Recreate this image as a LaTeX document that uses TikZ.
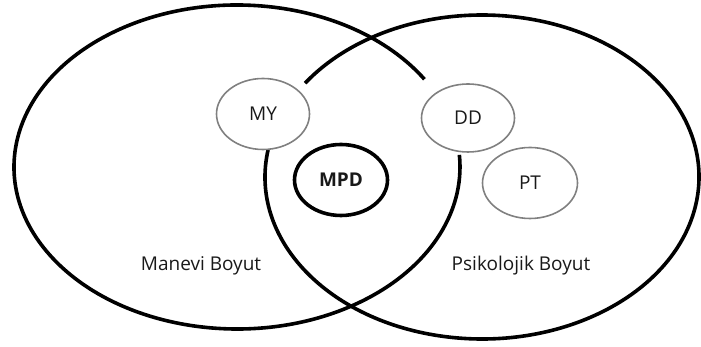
\documentclass[tikz,border=0pt]{standalone}
\usepackage{fontspec}
\setmainfont{Open Sans}
\usetikzlibrary{shapes.geometric}

\begin{document}
\begin{tikzpicture}[x=1pt, y=1pt,
  big/.style={line width=3.6pt, black},
  dim/.style={ellipse, draw=gray, fill=white, line width=1.6pt, inner sep=0pt,
    minimum width=93pt, minimum height=71pt, text=black!90, font=\fontsize{19}{21}\selectfont},
  core/.style={dim, draw=black, line width=3.6pt, font=\fontsize{19}{21}\selectfont\bfseries},
  lbl/.style={anchor=base, text=black!90, font=\fontsize{19}{21}\selectfont}]
\useasboundingbox (0,0) rectangle (701,347);

\draw[big] (237,180) ++(32.8:223pt and 162pt) arc[start angle=32.8, end angle=364.3, x radius=223pt, y radius=162pt];
\draw[big] (482,170) ++(170.4:217pt and 162pt) arc[start angle=170.4, end angle=504.6, x radius=217pt, y radius=162pt];

\node[dim] (my) at (263,233) {MY};
\node[dim, minimum height=68pt] (dd) at (468,229) {DD};
\node[dim, minimum width=95pt] (pt) at (530,164) {PT};
\node[core] (mpd) at (341,167) {MPD};

\node[lbl] (manevi) at (201,76) {Manevi Boyut};
\node[lbl] (psiko) at (521,76) {Psikolojik Boyut};

\end{tikzpicture}
\end{document}
